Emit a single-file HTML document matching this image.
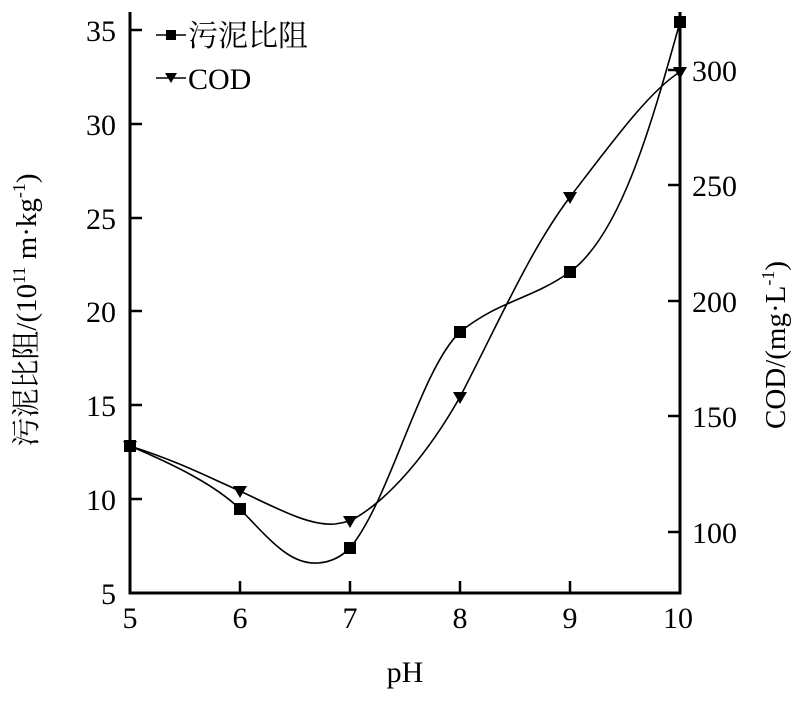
<!DOCTYPE html>
<html><head><meta charset="utf-8"><style>
html,body{margin:0;padding:0;background:#fff;}
svg text{font-family:"Liberation Serif","Noto Serif CJK SC",serif;fill:#000;}
</style></head><body>
<svg width="804" height="697" viewBox="0 0 804 697" xmlns="http://www.w3.org/2000/svg">
<g stroke="#000" stroke-width="3" fill="none">
<path d="M130,12 V593 H680 V12"/>
</g>
<g stroke="#000" stroke-width="2.5">
<line x1="130" y1="30" x2="142" y2="30"/><line x1="130" y1="124" x2="142" y2="124"/>
<line x1="130" y1="218" x2="142" y2="218"/><line x1="130" y1="311" x2="142" y2="311"/>
<line x1="130" y1="405" x2="142" y2="405"/><line x1="130" y1="499" x2="142" y2="499"/>
<line x1="240" y1="593" x2="240" y2="581"/><line x1="350" y1="593" x2="350" y2="581"/>
<line x1="460" y1="593" x2="460" y2="581"/><line x1="570" y1="593" x2="570" y2="581"/>
<line x1="680" y1="70" x2="668" y2="70"/><line x1="680" y1="185" x2="668" y2="185"/>
<line x1="680" y1="301" x2="668" y2="301"/><line x1="680" y1="416" x2="668" y2="416"/>
<line x1="680" y1="532" x2="668" y2="532"/>
</g>
<g font-size="30" text-anchor="end">
<text x="116" y="41">35</text><text x="116" y="135">30</text><text x="116" y="229">25</text>
<text x="116" y="322">20</text><text x="116" y="416">15</text><text x="116" y="510">10</text>
<text x="116" y="604">5</text>
</g>
<g font-size="30" text-anchor="start">
<text x="692" y="81">300</text><text x="692" y="196">250</text><text x="692" y="312">200</text>
<text x="692" y="427">150</text><text x="692" y="543">100</text>
</g>
<g font-size="30" text-anchor="middle">
<text x="130" y="628">5</text><text x="240" y="628">6</text><text x="350" y="628">7</text>
<text x="460" y="628">8</text><text x="570" y="628">9</text><text x="678" y="628">10</text>
<text x="405" y="682">pH</text>
</g>
<text font-size="29" text-anchor="middle" transform="translate(36,310) rotate(-90)">污泥比阻/(10<tspan font-size="18" dy="-11">11</tspan><tspan dy="11"> m·kg</tspan><tspan font-size="18" dy="-11">-1</tspan><tspan dy="11">)</tspan></text>
<text font-size="29" text-anchor="middle" transform="translate(785,345) rotate(-90)">COD/(mg·L<tspan font-size="18" dy="-11">-1</tspan><tspan dy="11">)</tspan></text>
<g stroke="#000" stroke-width="1.6" fill="none">
<path d="M130,446 C175,465 215,485 240,509 C270,540 290,565 318,563 C335,562 345,553 350,548 C390,500 420,370 460,332 C500,300 530,300 570,272 C620,235 650,130 680,22"/>
<path d="M130,446 C180,462 210,478 240,491 C280,510 310,526 335,524 C342,523 346,522 350,521 C390,500 430,450 460,397 C500,320 530,250 570,197 C610,145 650,90 680,72"/>
</g>
<g fill="#000">
<rect x="124" y="440" width="12" height="12"/><rect x="234" y="503" width="12" height="12"/>
<rect x="344" y="542" width="12" height="12"/><rect x="454" y="326" width="12" height="12"/>
<rect x="564" y="266" width="12" height="12"/><rect x="674" y="16" width="12" height="12"/>
<path d="M123,441 h14 l-7,12z"/><path d="M233,486 h14 l-7,12z"/><path d="M343,516 h14 l-7,12z"/>
<path d="M453,392 h14 l-7,12z"/><path d="M563,192 h14 l-7,12z"/><path d="M673,67 h14 l-7,12z"/>
</g>
<g stroke="#000" stroke-width="1.6">
<line x1="156" y1="35" x2="186" y2="35"/><line x1="156" y1="78" x2="186" y2="78"/>
</g>
<rect x="166" y="30" width="10" height="10" fill="#000"/>
<path d="M165,73 h12 l-6,10z" fill="#000"/>
<text x="188" y="46" font-size="30">污泥比阻</text>
<text x="188" y="89" font-size="30">COD</text>
</svg>
</body></html>
